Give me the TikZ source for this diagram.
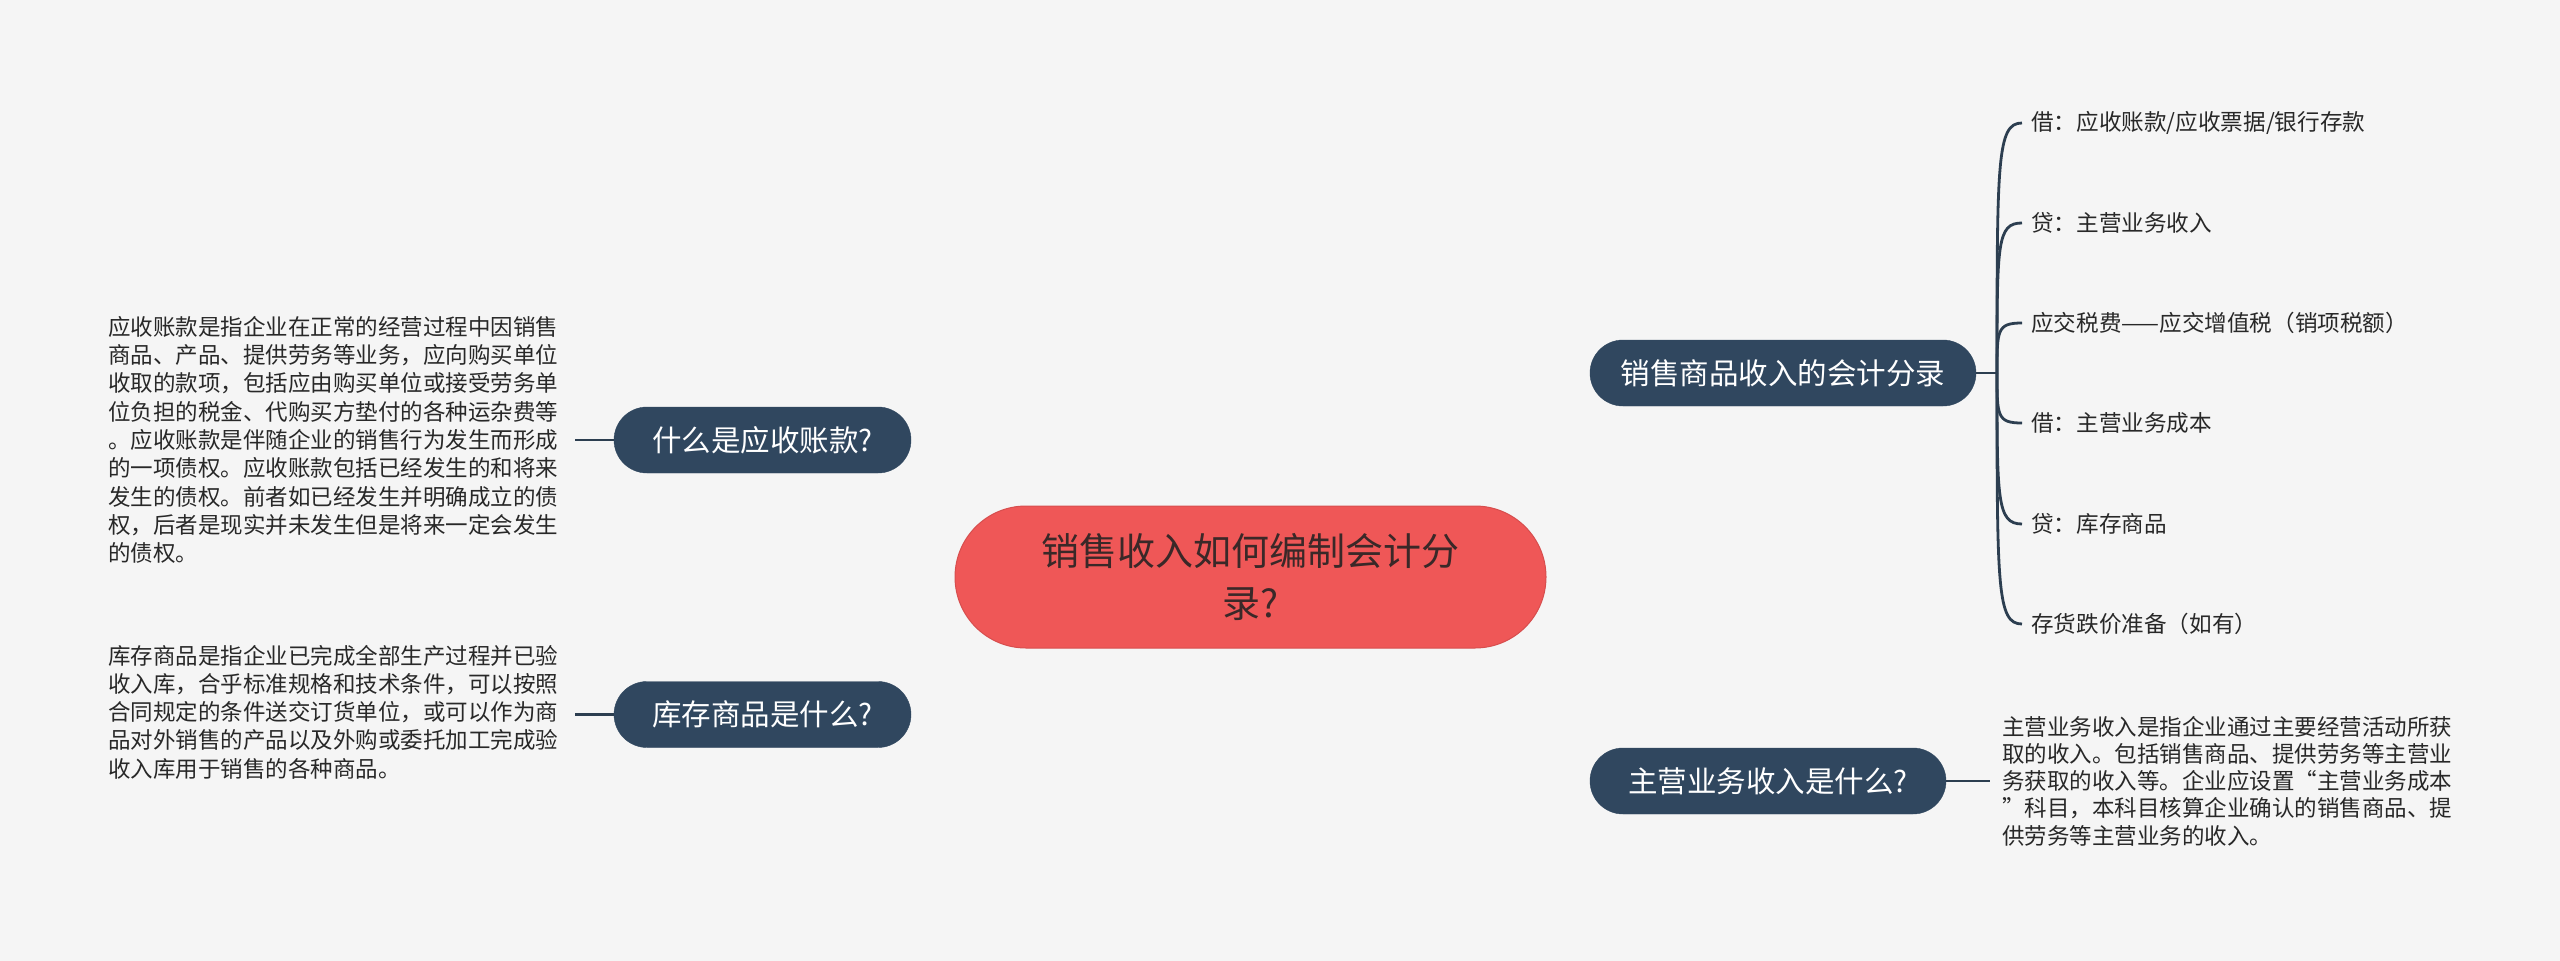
\documentclass[tikz,border=0pt]{standalone}
\usepackage{fontspec}
\setmainfont{Noto Sans CJK SC}
\usetikzlibrary{backgrounds}
\definecolor{bgc}{RGB}{245,245,245}
\definecolor{navy}{RGB}{48,71,95}
\definecolor{linec}{RGB}{44,62,80}
\definecolor{redc}{RGB}{239,87,87}
\definecolor{redtxt}{RGB}{58,40,40}
\definecolor{txt}{RGB}{40,40,40}
\tikzset{
  topic/.style={fill=navy, draw=navy, text=white, rounded corners=33pt, minimum height=66pt, inner sep=0pt, font=\fontsize{29.5}{34}\selectfont},
  central/.style={fill=redc, draw=redc!90!black, line width=1pt, text=redtxt, rounded corners=71pt, minimum width=591pt, minimum height=142pt, inner sep=0pt, align=center, font=\fontsize{38}{52}\selectfont},
  para/.style={anchor=west, text=txt, align=left, inner sep=0pt, font=\fontsize{22.5}{28.3}\selectfont},
  leaf/.style={anchor=west, text=txt, inner sep=0pt, font=\fontsize{22.6}{26}\selectfont},
  conn/.style={draw=linec, line width=2.8pt}
}
\begin{document}
\begin{tikzpicture}[x=1pt,y=-1pt]
\useasboundingbox (0,0) rectangle (2560,961);
\fill[bgc] (0,0) rectangle (2560,961);

\node[central] (c) at (1250.5,577) {销售收入如何编制会计分\\录?};

\node[topic, minimum width=297pt] (n1) at (762.5,440) {什么是应收账款?};
\node[topic, minimum width=297pt] (n2) at (762.5,714.5) {库存商品是什么?};
\node[topic, minimum width=386pt] (n3) at (1783,373) {销售商品收入的会计分录};
\node[topic, minimum width=356pt] (n4) at (1768,781) {主营业务收入是什么?};

\node[para, text width=455pt] (t1) at (108,440) {应收账款是指企业在正常的经营过程中因销售\\商品、产品、提供劳务等业务，应向购买单位\\收取的款项，包括应由购买单位或接受劳务单\\位负担的税金、代购买方垫付的各种运杂费等\\。应收账款是伴随企业的销售行为发生而形成\\的一项债权。应收账款包括已经发生的和将来\\发生的债权。前者如已经发生并明确成立的债\\权，后者是现实并未发生但是将来一定会发生\\的债权。};
\node[para, text width=455pt] (t2) at (108,712) {库存商品是指企业已完成全部生产过程并已验\\收入库，合乎标准规格和技术条件，可以按照\\合同规定的条件送交订货单位，或可以作为商\\品对外销售的产品以及外购或委托加工完成验\\收入库用于销售的各种商品。};
\node[para, text width=455pt, font=\fontsize{22.5}{27.2}\selectfont] (t3) at (2002,781) {主营业务收入是指企业通过主要经营活动所获\\取的收入。包括销售商品、提供劳务等主营业\\务获取的收入等。企业应设置“主营业务成本\\”科目，本科目核算企业确认的销售商品、提\\供劳务等主营业务的收入。};

\node[leaf] (l1) at (2031,123) {借：应收账款/应收票据/银行存款};
\node[leaf] (l2) at (2031,223) {贷：主营业务收入};
\node[leaf] (l3) at (2031,323) {应交税费——应交增值税（销项税额）};
\node[leaf] (l4) at (2031,423) {借：主营业务成本};
\node[leaf] (l5) at (2031,524) {贷：库存商品};
\node[leaf] (l6) at (2031,624) {存货跌价准备（如有）};

\coordinate (cA) at (1221,510);
\coordinate (cB) at (1262,510);
\coordinate (cC) at (1221,644);
\coordinate (cD) at (1262,644);
\coordinate (br) at (1997,373);

\begin{scope}[on background layer]
\draw[conn] (n1.east) .. controls (1080,440) and (1185,468) .. (cA);
\draw[conn] (n2.east) .. controls (1080,714) and (1185,684) .. (cC);
\draw[conn] (cB) .. controls (1282,400) and (1404,373) .. (n3.west);
\draw[conn] (cD) .. controls (1282,754) and (1404,781) .. (n4.west);
\end{scope}

\draw[conn] ([xshift=12pt]t1.east) -- (n1.west);
\draw[conn] ([xshift=12pt]t2.east |- n2.west) -- (n2.west);
\draw[conn] (n4.east) -- ([xshift=-12pt]t3.west);
\draw[conn] (n3.east) -- (br);
\draw[conn] (br) .. controls (1997,160) and (1997,123) .. ([xshift=-9pt]l1.west);
\draw[conn] (br) .. controls (1997,243) and (1997,223) .. ([xshift=-9pt]l2.west);
\draw[conn] (br) .. controls (1997,330) and (1997,323) .. ([xshift=-9pt]l3.west);
\draw[conn] (br) .. controls (1997,416) and (1997,423) .. ([xshift=-9pt]l4.west);
\draw[conn] (br) .. controls (1997,500) and (1997,524) .. ([xshift=-9pt]l5.west);
\draw[conn] (br) .. controls (1997,588) and (1997,624) .. ([xshift=-9pt]l6.west);
\end{tikzpicture}
\end{document}
